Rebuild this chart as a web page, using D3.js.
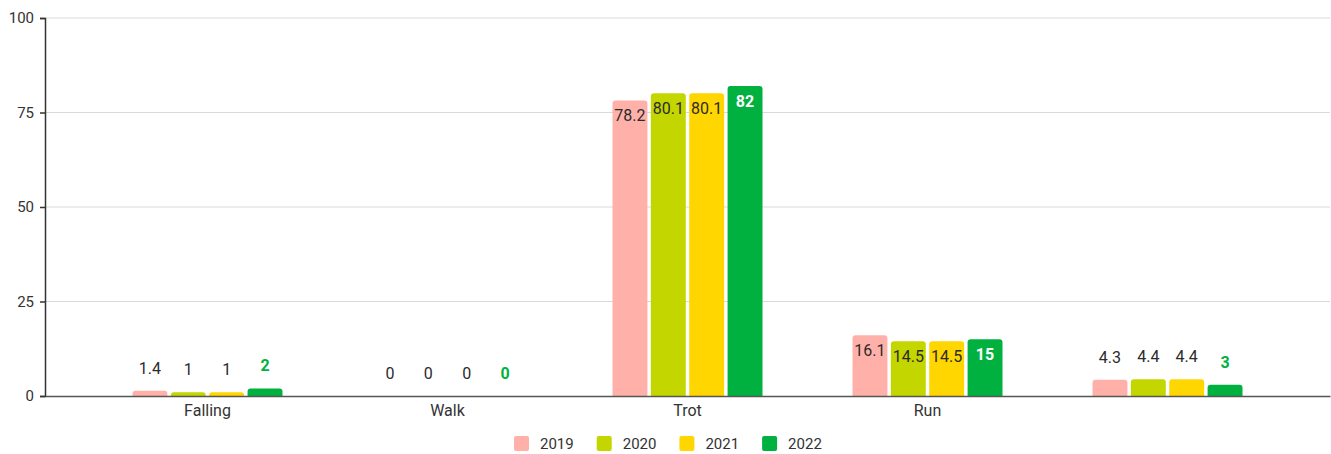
<!DOCTYPE html>
<html>
<head>
<meta charset="utf-8">
<script src="https://cdn.jsdelivr.net/npm/d3@7"></script>
<style>
  body { margin: 0; background: #fff; }
  text { font-family: Roboto, "Noto Sans", sans-serif; }
</style>
</head>
<body>
<div id="chart"></div>
<script>
// data
const categories = ["Falling", "Walk", "Trot", "Run", ""];
const years = ["2019", "2020", "2021", "2022"];
const values2019 = [1.4, 0, 78.2, 16.1, 4.3];
const values2020 = [1, 0, 80.1, 14.5, 4.4];
const values2021 = [1, 0, 80.1, 14.5, 4.4];
const values2022 = [2, 0, 82, 15, 3];
const yTicks = [0, 25, 50, 75, 100];

const colors = ["#ffb1a9", "#c4d600", "#ffd600", "#00b140"];
const series = [values2019, values2020, values2021, values2022];

const W = 1331, H = 454;
const margin = {top: 18, right: 1, bottom: 58, left: 45};

const svg = d3.select("#chart").append("svg")
    .attr("width", W)
    .attr("height", H);

const x = d3.scaleBand()
    .domain(d3.range(categories.length))
    .range([margin.left, W - margin.right])
    .paddingInner(0)
    .paddingOuter(0.177);

const y = d3.scaleLinear()
    .domain([0, 100])
    .range([H - margin.bottom, margin.top]);

const xSub = d3.scaleBand()
    .domain(years)
    .range([-75, 75])
    .paddingInner(0.09);

// grid lines
svg.append("g")
  .selectAll("line")
  .data(yTicks.filter(d => d > 0))
  .join("line")
    .attr("x1", margin.left)
    .attr("x2", W - margin.right)
    .attr("y1", d => y(d))
    .attr("y2", d => y(d))
    .attr("stroke", "#d9d9d9")
    .attr("stroke-width", 1);

// y axis
const yAxis = svg.append("g")
    .attr("transform", `translate(${margin.left},0)`)
    .call(d3.axisLeft(y).tickValues(yTicks).tickSize(5).tickPadding(6));
yAxis.select(".domain").attr("stroke", "#333").attr("stroke-width", 1.5);
yAxis.selectAll(".tick line").attr("stroke", "#333").attr("stroke-width", 1.5);
yAxis.selectAll("text").attr("font-size", 15).attr("fill", "#333")
    .style("font-family", "Roboto, sans-serif");

// rounded-top bar path
function barPath(x0, w, yTop, yBase, r) {
  const h = yBase - yTop;
  r = Math.min(r, h, w / 2);
  return `M${x0},${yBase} V${yTop + r} Q${x0},${yTop} ${x0 + r},${yTop} H${x0 + w - r} Q${x0 + w},${yTop} ${x0 + w},${yTop + r} V${yBase} Z`;
}

const cells = [];
categories.forEach((c, i) => {
  years.forEach((yr, j) => {
    cells.push({ci: i, year: yr, j: j, value: series[j][i]});
  });
});

const groups = svg.append("g");

groups.selectAll("path")
  .data(cells.filter(d => d.value > 0))
  .join("path")
    .attr("d", d => {
      const cx = x(d.ci) + x.bandwidth() / 2;
      return barPath(cx + xSub(d.year), xSub.bandwidth(), y(d.value), y(0), 3);
    })
    .attr("fill", d => colors[d.j]);

// value labels
const isInside = d => (y(0) - y(d.value)) > 30;
groups.selectAll("text")
  .data(cells)
  .join("text")
    .attr("x", d => x(d.ci) + x.bandwidth() / 2 + xSub(d.year) + xSub.bandwidth() / 2)
    .attr("y", d => isInside(d) ? y(d.value) + 21 : y(d.value) - 17)
    .attr("text-anchor", "middle")
    .attr("font-size", 16)
    .attr("font-weight", d => d.j === 3 ? "bold" : "normal")
    .attr("fill", d => {
      if (d.j === 3) return isInside(d) ? "#fff" : "#00b140";
      return "#2b2b2b";
    })
    .text(d => d.value);

// x axis
const xAxis = svg.append("g")
    .attr("transform", `translate(0,${y(0)})`)
    .call(d3.axisBottom(x).tickFormat(i => categories[i]).tickSize(0).tickPadding(9));
xAxis.select(".domain").attr("stroke", "#555").attr("stroke-width", 1.5);
xAxis.selectAll("text").attr("font-size", 16).attr("fill", "#333")
    .style("font-family", "Roboto, sans-serif");

// legend
const legend = svg.append("g")
    .attr("transform", `translate(514,436)`);
const item = legend.selectAll("g")
  .data(years)
  .join("g")
    .attr("transform", (d, i) => `translate(${i * 82.7},0)`);
item.append("rect")
    .attr("width", 15)
    .attr("height", 15)
    .attr("rx", 2)
    .attr("fill", (d, i) => colors[i]);
item.append("text")
    .attr("x", 26)
    .attr("y", 13)
    .attr("font-size", 15)
    .attr("fill", "#333")
    .text(d => d);
</script>
</body>
</html>
